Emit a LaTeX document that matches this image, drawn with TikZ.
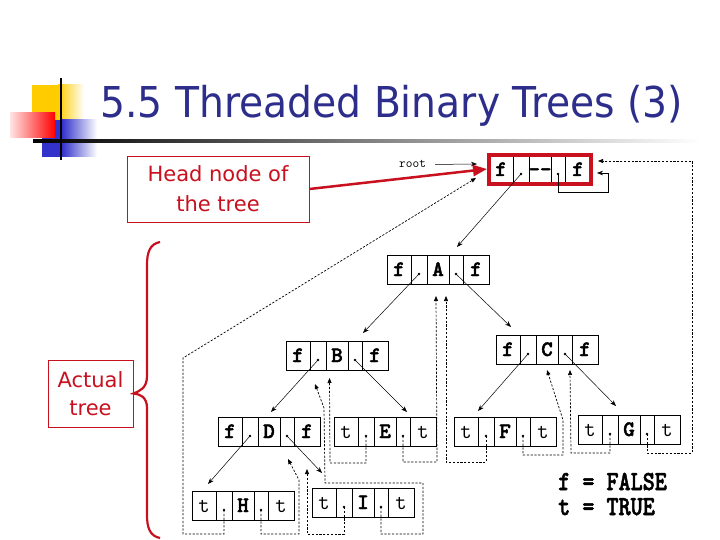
\documentclass[tikz,border=0pt]{standalone}
\usepackage{fontspec}
\setmainfont{DejaVu Sans}
\newfontfamily\monob{lmmonolt10-bold.otf}[FakeBold=2]
\usetikzlibrary{arrows.meta,calc}
\definecolor{titleblue}{RGB}{45,45,140}
\definecolor{redc}{RGB}{200,16,30}
\definecolor{sqyellow}{RGB}{255,204,0}
\definecolor{sqblue}{RGB}{51,51,204}
\newsavebox\titlebox
\newcommand\recnode[6][]{%
  \begin{scope}[shift={(#3)}]
    \draw[line width=0.6pt] (24,0) -- (24,29) (40,0) -- (40,29) (62,0) -- (62,29) (76,0) -- (76,29);
    \node[rec,#1] (#2) at (51,14.5) {};
    \node[fld,anchor=base] (#2-lt) at (12,21) {#4};
    \node[fld,anchor=base] (#2-d) at (51,21) {#5};
    \node[fld,anchor=base] (#2-rt) at (89,21) {#6};
    \coordinate (#2l) at (32,19);
    \coordinate (#2r) at (69,19);
    \fill (#2l) circle (1.3pt);
    \fill (#2r) circle (1.3pt);
  \end{scope}}
\newcommand\bff[1]{{\monob #1}}
\begin{document}
\sbox\titlebox{\color{titleblue}\fontsize{42.5}{50}\selectfont 5.5 Threaded Binary Trees (3)}%
\begin{tikzpicture}[x=1pt,y=-1pt,
  rec/.style={draw, line width=0.6pt, minimum width=102pt, minimum height=29pt, inner sep=0},
  fld/.style={inner sep=0, font=\ttfamily\fontsize{22}{22}\selectfont},
  edge/.style={line width=0.5pt, -{Stealth[length=6pt,width=4.5pt]}},
  thread/.style={line width=0.7pt, dash pattern=on 2.2pt off 1.6pt, -{Triangle[length=5pt,width=4pt]}},
  redbox/.style={draw=redc, line width=0.8pt, fill=white, text=redc, align=center, inner sep=0}
]
\useasboundingbox (0,0) rectangle (720,540);
\fill[white] (0,0) rectangle (720,540);
% decoration
\fill[sqyellow] (32,85) rectangle (58,120);
\shade[left color=sqyellow, right color=white] (58,85) rectangle (84,120);
\fill[sqblue] (42,120) rectangle (62,157);
\shade[left color=sqblue, right color=white] (62,120) rectangle (97,157);
\shade[left color=red!10, right color=red] (10,113) rectangle (55,138);
\shade[left color=black, right color=white] (33,140) rectangle (700,142.5);
\draw[line width=2.5pt] (61,78) -- (61,160);
% title
\pgfmathsetmacro\tsx{583pt/\the\wd\titlebox}
\node[anchor=base west, inner sep=0] (title) at (100,118) {\scalebox{\tsx}[1]{\usebox\titlebox}};
% labels
\node[redbox, minimum width=182pt, minimum height=66pt, font=\fontsize{21}{30}\selectfont] (hn) at (218,189) {Head node of\\the tree};
\node[redbox, minimum width=85pt, minimum height=67pt, font=\fontsize{21}{28}\selectfont] (act) at (90.5,393.5) {Actual\\tree};
\draw[redc, line width=2.2pt] (160,242) .. controls (150,244) and (147,252) .. (147,265) -- (147,376)
  .. controls (147,388) and (140,391) .. (act.east) .. controls (140,394) and (147,397) .. (147,408)
  -- (147,515) .. controls (147,528) and (150,536) .. (160,538);
% records
\recnode[draw=redc, line width=3.5pt]{Hd}{489,155}{\bff{f}}{\bff{-{}-}}{\bff{f}}
\recnode{A}{387,255}{\bff{f}}{\bff{A}}{\bff{f}}
\recnode{B}{286,341}{\bff{f}}{\bff{B}}{\bff{f}}
\recnode{C}{496,335}{\bff{f}}{\bff{C}}{\bff{f}}
\recnode{D}{218,417}{\bff{f}}{\bff{D}}{\bff{f}}
\recnode{E}{334,417}{t}{\bff{E}}{t}
\recnode{F}{454,417}{t}{\bff{F}}{t}
\recnode{G}{578,415}{t}{\bff{G}}{t}
\recnode{H}{192,491}{t}{\bff{H}}{t}
\recnode{I}{312,488}{t}{\bff{I}}{t}
% root
\node[font=\ttfamily\fontsize{13}{13}\selectfont, inner sep=0, anchor=base west] (root) at (399,168) {root};
\coordinate (rootTip) at (477,164);
\draw[edge] ($(root.east)+(9,0)$) -- (rootTip);
\coordinate (redTip) at (487,169);
\draw[redc, line width=2.5pt, -{Triangle[length=14pt,width=11pt]}] (hn.east) -- (redTip);
% tree edges
\coordinate (eA) at (457,247);
\coordinate (eB) at (363,333);
\coordinate (eC) at (511,327);
\coordinate (eD) at (271,412);
\coordinate (eE) at (407,412);
\coordinate (eH) at (208,484);
\coordinate (eI) at (322,473);
\coordinate (eF) at (478,411);
\coordinate (eG) at (616,406);
\draw[edge] (Hdl) -- (eA);
\draw[edge] (Al) -- (eB);
\draw[edge] (Ar) -- (eC);
\draw[edge] (Bl) -- (eD);
\draw[edge] (Br) -- (eE);
\draw[edge] (Dl) -- (eH);
\draw[edge] (Dr) -- (eI);
\draw[edge] (Cl) -- (eF);
\draw[edge] (Cr) -- (eG);
\draw[edge] (Hdr) |- (608,192) |- (597,173);
% threads
\coordinate (tHd1) at (476,178);
\coordinate (tHd2) at (598,161);
\coordinate (tD1) at (288,459);
\coordinate (tD2) at (307,469);
\coordinate (tB1) at (315,384);
\coordinate (tB2) at (329.5,378);
\coordinate (tA1) at (436,296);
\coordinate (tA2) at (446,296);
\coordinate (tC1) at (547,370);
\coordinate (tC2) at (570,370);
\draw[thread] (Hl) |- (183,534) -- (183,358) -- (tHd1);
\draw[thread] (Hr) |- (299,534) -- (299,480) -- (tD1);
\draw[thread] (Il) |- (307,534) -- (tD2);
\draw[thread] (Ir) |- (423,534) |- (325,483) -- (324,408) -- (tB1);
\draw[thread] (El) |- (330,463) -- (tB2);
\draw[thread] (Er) |- (437,462) -- (tA1);
\draw[thread] (Fl) |- (446,462) -- (tA2);
\draw[thread] (Fr) |- (563,455) -- (563,420) -- (tC1);
\draw[thread] (Gl) |- (571,453) -- (tC2);
\draw[thread] (Gr) |- (692,453) |- (tHd2);
% legend
\node[anchor=base west, inner sep=0, font=\monob\fontsize{23}{23}\selectfont] (lgf) at (558,490) {\scalebox{1}[1.2]{f = FALSE}};
\node[anchor=base west, inner sep=0, font=\monob\fontsize{23}{23}\selectfont] (lgt) at (558,515) {\scalebox{1}[1.2]{t = TRUE}};
\end{tikzpicture}
\end{document}
